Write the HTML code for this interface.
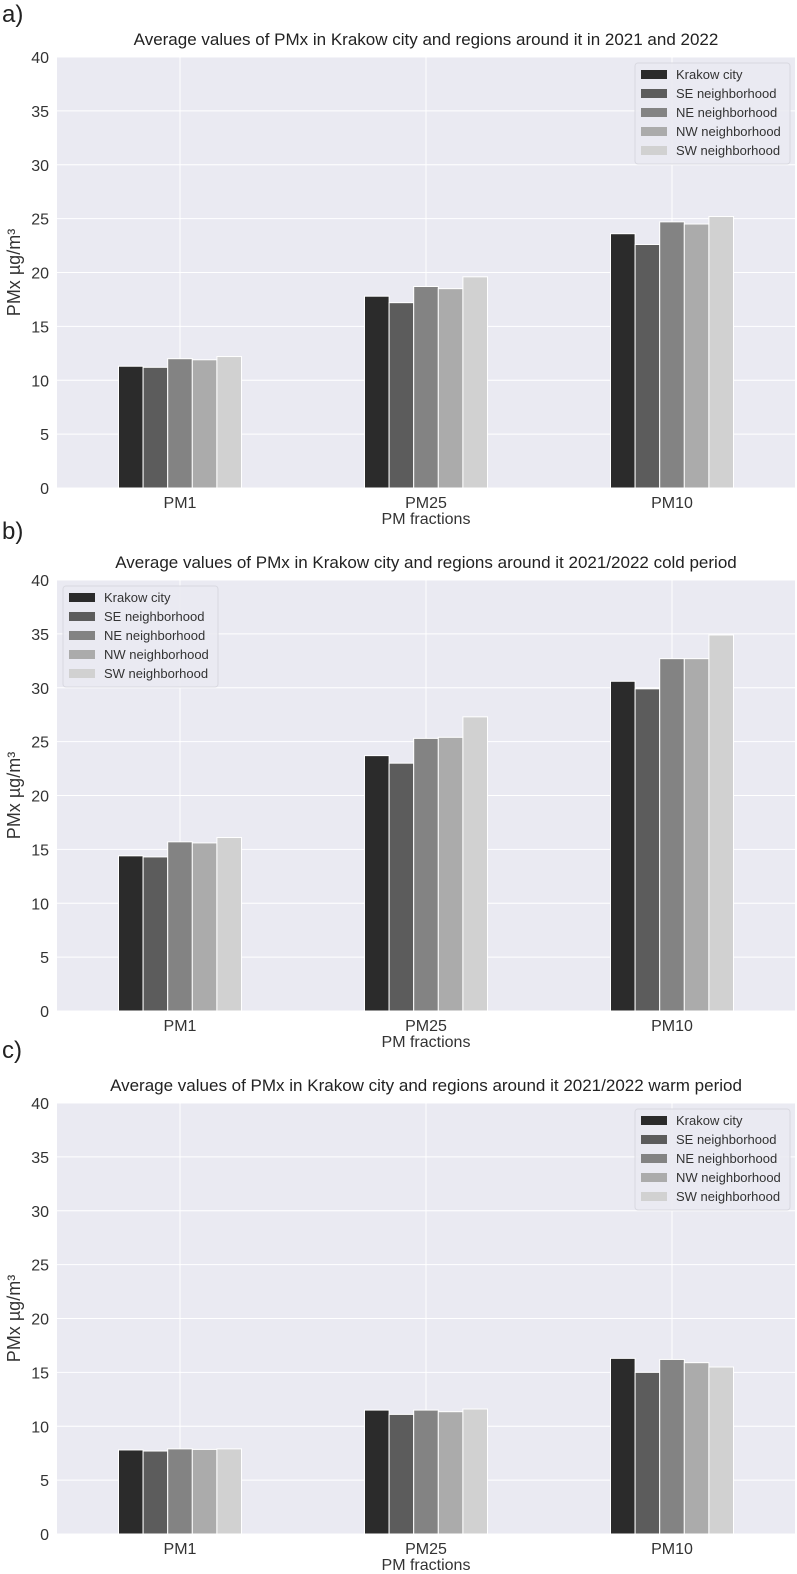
<!DOCTYPE html>
<html><head><meta charset="utf-8"><style>
body{margin:0;background:#fff;}
svg{display:block;font-family:"Liberation Sans",Arial,sans-serif;}
</style></head><body>
<svg id="chart" width="797" height="1574" viewBox="0 0 797 1574" xmlns="http://www.w3.org/2000/svg"></svg>
<script>
const categories = ["PM1","PM25","PM10"];
const seriesNames = ["Krakow city","SE neighborhood","NE neighborhood","NW neighborhood","SW neighborhood"];
const yTicks = [0,5,10,15,20,25,30,35,40];
const titles = [
 "Average values of PMx in Krakow city and regions around it in 2021 and 2022",
 "Average values of PMx in Krakow city and regions around it 2021/2022 cold period",
 "Average values of PMx in Krakow city and regions around it 2021/2022 warm period"];
const panelLabels = ["a)","b)","c)"];
// values[series][category]
const valuesA = [[11.3,17.8,23.6],[11.2,17.2,22.6],[12.0,18.7,24.7],[11.9,18.5,24.5],[12.2,19.6,25.2]];
const valuesB = [[14.4,23.7,30.6],[14.3,23.0,29.9],[15.7,25.3,32.7],[15.6,25.4,32.7],[16.1,27.3,34.9]];
const valuesC = [[7.8,11.5,16.3],[7.7,11.1,15.0],[7.9,11.5,16.2],[7.85,11.35,15.9],[7.9,11.6,15.5]];
const panels = [valuesA, valuesB, valuesC];
const legendLeft = [false, true, false];

const colors = ["#2b2b2b","#5c5c5c","#838383","#ababab","#d1d1d1"];
const NS = "http://www.w3.org/2000/svg";
const svg = document.getElementById("chart");
function mk(tag, attrs, parent){const e=document.createElementNS(NS,tag);for(const k in attrs)e.setAttribute(k,attrs[k]);(parent||svg).appendChild(e);return e;}

const L=57,R=795,H=431,yMax=40;
panels.forEach((vals,p)=>{
  const top=57+p*523, bottom=top+H;
  const g=mk("g",{});
  
  
  const ys=v=>bottom-v/yMax*H;
  const step=(R-L)/categories.length;
  const xc=i=>L+step*(i+0.5);
  const bw=step*0.5/seriesNames.length;
  const lab=mk("text",{x:2,y:top-57+22+(p>0?(p==1?-6:-10):0),"font-size":24,fill:"#222"},g);
  lab.textContent=panelLabels[p];
  
  
  const bg=mk("rect",{x:L,y:top,width:R-L,height:H,fill:"#eaeaf2"},g);
  
  
  yTicks.forEach(t=>{
    const y=ys(t);
    const gl=mk("line",{x1:L,x2:R,y1:y,y2:y,stroke:"#fff","stroke-width":1},g);
    
    
    const tl=mk("text",{x:49,y:y+6,"font-size":16,fill:"#333","text-anchor":"end"},g);
    tl.textContent=t;
    
    
  });
  categories.forEach((c,i)=>{
    const gl=mk("line",{x1:xc(i),x2:xc(i),y1:top,y2:bottom,stroke:"#fff","stroke-width":1},g);
    
    
    const tl=mk("text",{x:xc(i),y:bottom+20,"font-size":16,fill:"#333","text-anchor":"middle"},g);
    tl.textContent=c;
    
    
  });
  vals.forEach((sv,s)=>{
    sv.forEach((v,i)=>{
      const x=xc(i)-2.5*bw+s*bw;
      const b=mk("rect",{x:x,y:ys(v),width:bw,height:bottom-ys(v),fill:colors[s],stroke:"#fff","stroke-width":1},g);
      
      
    });
  });
  const t=mk("text",{x:(L+R)/2,y:top-12,"font-size":17,fill:"#222","text-anchor":"middle"},g);
  t.textContent=titles[p];
  
  
  const xl=mk("text",{x:(L+R)/2,y:bottom+36,"font-size":16,fill:"#333","text-anchor":"middle"},g);
  xl.textContent="PM fractions";
  
  
  const yl=mk("text",{x:0,y:0,"font-size":18,fill:"#333","text-anchor":"middle",transform:`translate(20,${(top+bottom)/2}) rotate(-90)`},g);
  yl.textContent="PMx µg/m³";
  
  
  // legend
  const lx=legendLeft[p]?63:635, ly=top+6;
  const lg=mk("g",{},g);
  
  
  mk("rect",{x:lx,y:ly,width:155,height:101,rx:3,fill:"#eaeaf2",stroke:"#d8d8e0","stroke-width":1,"fill-opacity":0.9},lg);
  seriesNames.forEach((n,s)=>{
    const ry=ly+11+s*19;
    const e=mk("g",{},lg);
    
    
    mk("rect",{x:lx+6,y:ry-4,width:26,height:9,fill:colors[s]},e);
    const tx=mk("text",{x:lx+41,y:ry+5,"font-size":13,fill:"#333"},e);
    tx.textContent=n;
  });
});
</script>
</body></html>
